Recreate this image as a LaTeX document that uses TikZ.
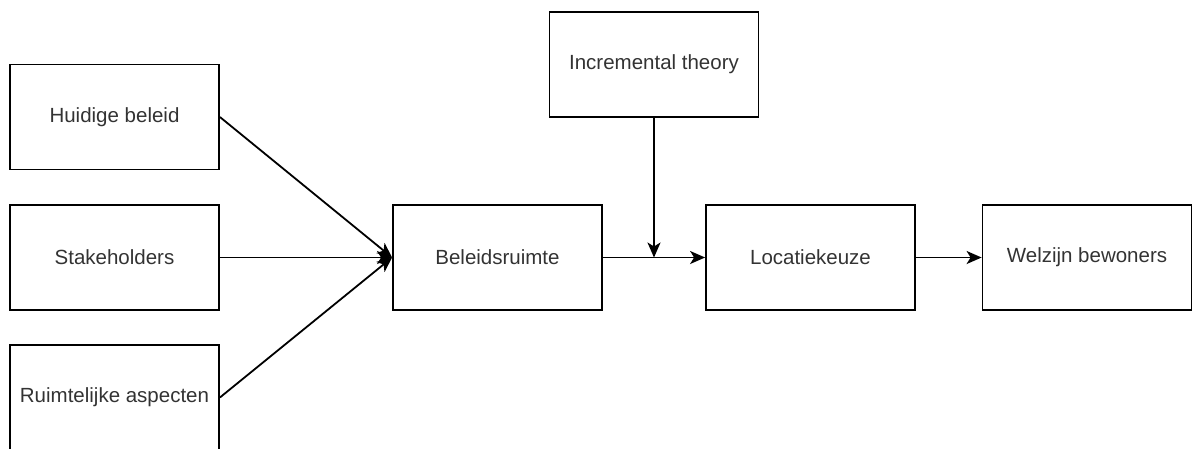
\documentclass[tikz,border=0pt]{standalone}
\usepackage{fontspec}
\setmainfont{Liberation Sans}
\usetikzlibrary{arrows.meta,calc}
\tikzset{
  blok/.style={draw,line width=1.8pt,minimum width=209pt,minimum height=105pt,inner sep=0pt,
    text=black!80,font=\fontsize{20.5}{24}\selectfont},
  pijl/.style={line width=1.8pt,-{Stealth[length=15pt,width=13pt,inset=4pt]}}
}
\begin{document}
\begin{tikzpicture}[x=1pt,y=-1pt]
      \useasboundingbox (0,0) rectangle (1192,448);
      %oorzaken
      \node[blok] (hb) at (114.5,117) {Huidige beleid};
      \node[blok] (sh) at (114.5,257.5) {Stakeholders};
      \node[blok] (ra) at (114.5,397.5) {Ruimtelijke aspecten};
      %keten
      \node[blok] (br) at (497.5,257.5) {Beleidsruimte};
      \node[blok] (it) at (654,64.5) {Incremental theory};
      \node[blok] (lk) at (810.5,257.5) {Locatiekeuze};
      \node[blok] (wb) at (1087,257.5) {Welzijn bewoners};
      \coordinate (mid) at ($(br.east)!0.5!(lk.west)$);
      %pijlen
      \draw[pijl] (hb.east) -- (br.west);
      \draw[pijl] (sh.east) -- (br.west);
      \draw[pijl] (ra.east) -- (br.west);
      \draw[pijl] (br.east) -- (lk.west);
      \draw[pijl] (it.south) -- (mid);
      \draw[pijl] (lk.east) -- (wb.west);
   \end{tikzpicture}
\end{document}
